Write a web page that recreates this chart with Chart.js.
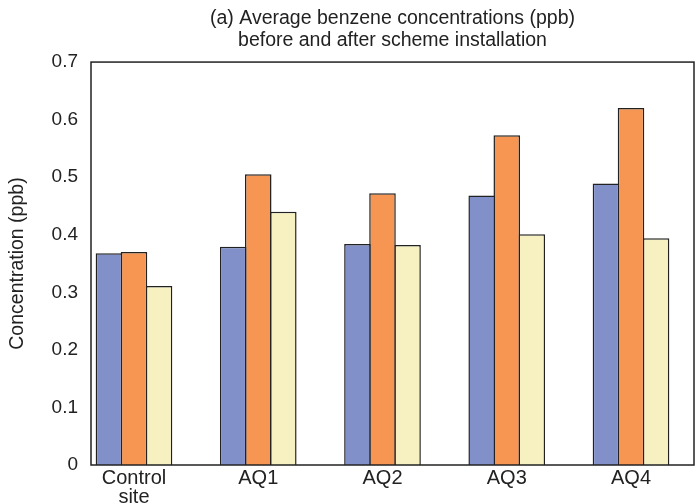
<!DOCTYPE html>
<html>
<head>
<meta charset="utf-8">
<script src="https://cdn.jsdelivr.net/npm/chart.js@4.4.1/dist/chart.umd.min.js"></script>
<style>
  html, body { margin: 0; padding: 0; background: #fff; }
  #wrap { width: 697px; height: 504px; }
</style>
</head>
<body>
<div id="wrap"><canvas id="benzene"></canvas></div>
<script>
// category labels (multi-line for the control site)
const sites = [["Control", "site"], "AQ1", "AQ2", "AQ3", "AQ4"];
// three series (ppb)
const seriesA = [0.368, 0.379, 0.384, 0.468, 0.489];
const seriesB = [0.370, 0.505, 0.472, 0.573, 0.620];
const seriesC = [0.311, 0.440, 0.382, 0.401, 0.394];
const yTicks = [0, 0.1, 0.2, 0.3, 0.4, 0.5, 0.6, 0.7];

const FONT = "'Liberation Sans', Arial, sans-serif";
const INK = "#222";

function pts(vals) {
  return vals.map((v, i) => ({ x: i, y: v }));
}

// box round the plot area
const frame = {
  id: "frame",
  afterDraw(chart) {
    const a = chart.chartArea, ctx = chart.ctx;
    ctx.save();
    ctx.strokeStyle = INK;
    ctx.lineWidth = 1.5;
    ctx.strokeRect(a.left, a.top, a.right - a.left, a.bottom - a.top);
    ctx.restore();
  }
};

new Chart(document.getElementById("benzene"), {
  type: "bar",
  data: {
    datasets: [
      { data: pts(seriesA), backgroundColor: "#8190c9" },
      { data: pts(seriesB), backgroundColor: "#f79552" },
      { data: pts(seriesC), backgroundColor: "#f7f1c1" }
    ]
  },
  options: {
    responsive: true,
    maintainAspectRatio: false,
    animation: false,
    layout: { padding: { top: 0, right: 3, bottom: 0, left: 0 } },
    datasets: {
      bar: {
        borderColor: INK,
        borderWidth: 1.5,
        categoryPercentage: 0.605,
        barPercentage: 1.06   // slight overlap so neighbouring bars share one edge
      }
    },
    plugins: {
      legend: { display: false },
      tooltip: { enabled: false },
      title: {
        display: true,
        fullSize: false,
        text: ["(a) Average benzene concentrations (ppb)", "before and after scheme installation"],
        color: INK,
        font: { family: FONT, size: 19.5, weight: "normal", lineHeight: 1.13 },
        padding: { top: 8, bottom: 10 }
      }
    },
    scales: {
      x: {
        type: "linear",
        offset: false,
        min: -0.346,
        max: 4.507,
        grid: { display: false, drawTicks: false, offset: false },
        border: { display: false },
        afterBuildTicks: (s) => { s.ticks = sites.map((_, i) => ({ value: i })); },
        afterFit: (s) => { s.height = 39; },
        ticks: {
          autoSkip: false,
          maxRotation: 0,
          padding: 4,
          color: INK,
          font: { family: FONT, size: 20, lineHeight: 0.95 },
          callback: (v) => sites[v]
        }
      },
      y: {
        min: 0,
        max: 0.7,
        grid: { display: false, drawTicks: false },
        border: { display: false },
        afterBuildTicks: (s) => { s.ticks = yTicks.map(v => ({ value: v })); },
        afterFit: (s) => { s.width = 91; },
        ticks: {
          padding: 13,
          color: INK,
          font: { family: FONT, size: 19 },
          callback: (v) => String(v)
        },
        title: {
          display: true,
          text: "Concentration (ppb)",
          color: INK,
          font: { family: FONT, size: 19.5 },
          padding: { top: 6, bottom: 0 }
        }
      }
    }
  },
  plugins: [frame]
});
</script>
</body>
</html>
